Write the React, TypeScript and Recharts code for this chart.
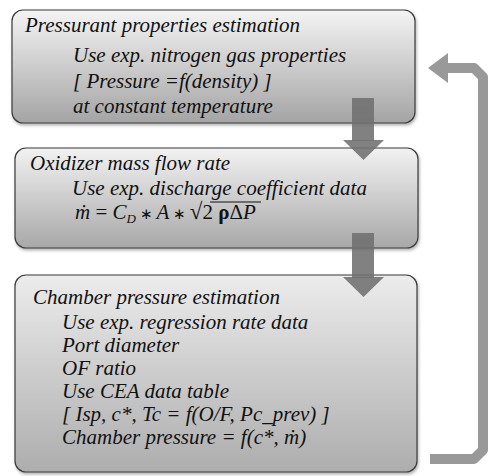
import { ComposedChart, XAxis, YAxis, ReferenceArea, Scatter, Line } from 'recharts';

const W = 489;
const H = 476;

// ── Diagram data (in page pixels) ─────────────────────────────────────────────

const BOXES = [
  { id: 'b1', x1: 12, x2: 415, y1: 10, y2: 123, grad: 'boxGrad1' },
  { id: 'b2', x1: 15, x2: 418, y1: 148, y2: 248, grad: 'boxGrad2' },
  { id: 'b3', x1: 15, x2: 417, y1: 275, y2: 472, grad: 'boxGrad3' },
];

// shafts of the two down arrows
const SHAFTS = [
  { x1: 352, x2: 374, y1: 98, y2: 141 },
  { x1: 352, x2: 374, y1: 233, y2: 278 },
];

// arrow heads (bounding boxes), dir = way the tip points
const HEADS = [
  { x1: 343, x2: 384, y1: 140, y2: 160, dir: 'down' },
  { x1: 343, x2: 384, y1: 277, y2: 297, dir: 'down' },
  { x1: 428, x2: 448, y1: 53, y2: 83, dir: 'left' },
];

// feedback loop path (right side)
const LOOP = [
  { x: 430, y: 459 },
  { x: 474, y: 459 },
  { x: 483, y: 450 },
  { x: 483, y: 77 },
  { x: 474, y: 68 },
  { x: 446, y: 68 },
];

const LINES = [
  { x: 25, y: 32, text: 'Pressurant properties estimation' },
  { x: 73, y: 62, text: 'Use exp. nitrogen gas properties' },
  { x: 73, y: 88, text: '[ Pressure =f(density) ]' },
  { x: 73, y: 113, text: 'at constant temperature' },
  { x: 30, y: 170, text: 'Oxidizer mass flow rate' },
  { x: 72, y: 195, text: 'Use exp. discharge coefficient data' },
  { x: 75, y: 219, text: '', formula: true },
  { x: 33, y: 304, text: 'Chamber pressure estimation' },
  { x: 62, y: 329, text: 'Use exp. regression rate data' },
  { x: 62, y: 352, text: 'Port diameter' },
  { x: 62, y: 375, text: 'OF ratio' },
  { x: 62, y: 398, text: 'Use CEA data table' },
  { x: 62, y: 421, text: '[ Isp, c*, Tc = f(O/F, Pc_prev) ]' },
  { x: 62, y: 444, text: 'Chamber pressure = f(c*, ṁ)' },
];

const serif = { fontFamily: "'Liberation Serif', 'Times New Roman', Times, serif" };

function BoxShape(props: any, grad: string) {
  const { x, y, width, height } = props;
  return (
    <rect
      x={x}
      y={y}
      width={width}
      height={height}
      rx={11}
      ry={11}
      fill={`url(#${grad})`}
      stroke="#3a3a3a"
      strokeWidth={1.2}
      filter="url(#boxShadow)"
    />
  );
}

function HeadShape(props: any, dir: string) {
  const { x, y, width, height } = props;
  const pts =
    dir === 'down'
      ? `${x},${y} ${x + width},${y} ${x + width / 2},${y + height}`
      : `${x + width},${y} ${x + width},${y + height} ${x},${y + height / 2}`;
  const fill = dir === 'down' ? '#6f6f6f' : '#999999';
  const op = dir === 'down' ? 0.88 : 1;
  return <polygon points={pts} fill={fill} fillOpacity={op} />;
}

function TextShape(props: any) {
  const { cx, cy, payload } = props;
  if (payload.formula) {
    return (
      <g>
        <text x={cx} y={cy} style={{ ...serif, fontSize: 21 }} fill="#111">
          <tspan fontStyle="italic">ṁ</tspan>
          <tspan> = </tspan>
          <tspan fontStyle="italic">C</tspan>
          <tspan fontStyle="italic" fontSize={13} dy={4}>D</tspan>
          <tspan dy={-4} fontSize={15}> ∗ </tspan>
          <tspan fontStyle="italic">A</tspan>
          <tspan fontSize={15}> ∗ </tspan>
          <tspan fontSize={23}>√</tspan>
          <tspan>2 </tspan>
          <tspan fontWeight="bold">ρ</tspan>
          <tspan>Δ</tspan>
          <tspan fontStyle="italic">P</tspan>
        </text>
        {/* radical bar */}
        <line x1={cx + 135} x2={cx + 186} y1={cy - 17} y2={cy - 17} stroke="#111" strokeWidth={1.1} />
      </g>
    );
  }
  return (
    <text x={cx} y={cy} style={{ ...serif, fontStyle: 'italic', fontSize: 21 }} fill="#111">
      {payload.text}
    </text>
  );
}

export default function App() {
  return (
    <div style={{ position: 'absolute', left: 0, top: 0, width: W, height: H, background: '#fff' }}>
      <ComposedChart width={W} height={H} margin={{ top: 0, right: 0, bottom: 0, left: 0 }}>
        <defs>
          <linearGradient id="boxGrad1" x1="0" y1="0" x2="0" y2="1">
            <stop offset="0%" stopColor="#f4f4f4" />
            <stop offset="100%" stopColor="#a4a4a4" />
          </linearGradient>
          <linearGradient id="boxGrad2" x1="0" y1="0" x2="0" y2="1">
            <stop offset="0%" stopColor="#f2f2f2" />
            <stop offset="100%" stopColor="#a8a8a8" />
          </linearGradient>
          <linearGradient id="boxGrad3" x1="0" y1="0" x2="0" y2="1">
            <stop offset="0%" stopColor="#ececec" />
            <stop offset="100%" stopColor="#adadad" />
          </linearGradient>
          <filter id="boxShadow" x="-5%" y="-5%" width="110%" height="115%">
            <feDropShadow dx="1" dy="2" stdDeviation="1.5" floodColor="#000" floodOpacity="0.3" />
          </filter>
        </defs>
        <XAxis type="number" dataKey="x" domain={[0, W]} hide allowDataOverflow />
        <YAxis type="number" dataKey="y" domain={[0, H]} reversed hide allowDataOverflow />

        {BOXES.map(b => (
          <ReferenceArea
            key={b.id}
            x1={b.x1}
            x2={b.x2}
            y1={b.y1}
            y2={b.y2}
            ifOverflow="visible"
            shape={(p: any) => BoxShape(p, b.grad)}
          />
        ))}

        {SHAFTS.map((s, i) => (
          <ReferenceArea
            key={'s' + i}
            x1={s.x1}
            x2={s.x2}
            y1={s.y1}
            y2={s.y2}
            ifOverflow="visible"
            fill="#6f6f6f"
            fillOpacity={0.88}
            stroke="none"
          />
        ))}

        {HEADS.map((h, i) => (
          <ReferenceArea
            key={'h' + i}
            x1={h.x1}
            x2={h.x2}
            y1={h.y1}
            y2={h.y2}
            ifOverflow="visible"
            shape={(p: any) => HeadShape(p, h.dir)}
          />
        ))}

        <Line
          data={LOOP}
          dataKey="y"
          stroke="#999999"
          strokeWidth={10}
          strokeLinejoin="round"
          strokeLinecap="butt"
          dot={false}
          activeDot={false}
          isAnimationActive={false}
          type="linear"
        />

        <Scatter data={LINES} dataKey="y" shape={TextShape} isAnimationActive={false} />
      </ComposedChart>
    </div>
  );
}
